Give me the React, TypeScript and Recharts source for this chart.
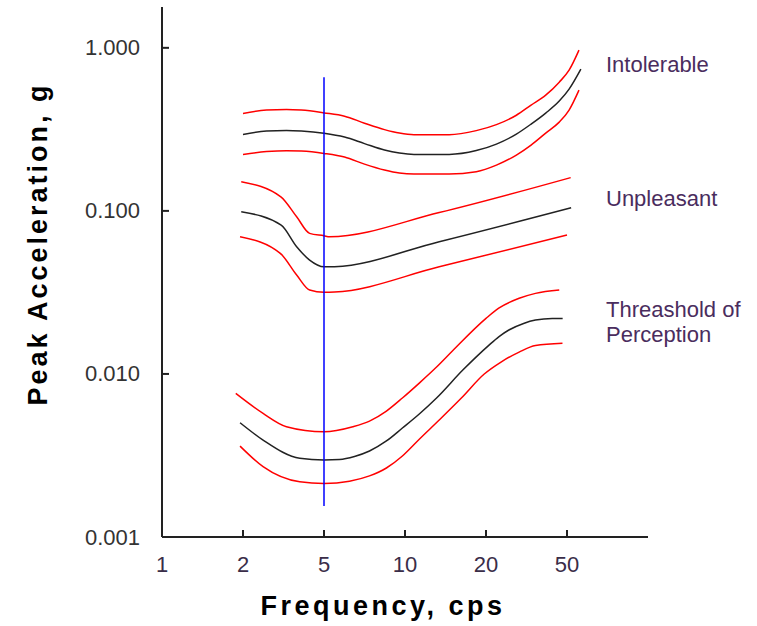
import { LineChart, Line, XAxis, YAxis, Customized } from 'recharts';

// evenly spaced 1-2-5 frequency axis
const tickFreqs = [1, 2, 5, 10, 20, 50, 100];
const xTickLabels = ['1', '2', '5', '10', '20', '50', ''];
const yTicks = [0.001, 0.01, 0.1, 1];

const intolerableF = [2.0, 2.61, 3.27, 3.87, 5, 5.96, 7.07, 8.39, 9.53, 10.8, 14.6, 18.4, 22.5, 28.2, 33.3, 39.3, 45.8, 50.9, 55.4];
const intolerableHi = [0.396, 0.415, 0.419, 0.415, 0.399, 0.381, 0.345, 0.315, 0.3, 0.2935, 0.2935, 0.3106, 0.338, 0.386, 0.4455, 0.513, 0.616, 0.729, 0.968];
const intolerableMidF = [2.0, 2.61, 3.27, 3.87, 5, 5.96, 7.07, 8.39, 9.53, 10.8, 14.6, 18.4, 22.5, 28.2, 33.3, 39.3, 45.8, 50.9, 56.3];
const intolerableMid = [0.294, 0.3086, 0.311, 0.3086, 0.299, 0.2835, 0.2586, 0.236, 0.2262, 0.222, 0.222, 0.2343, 0.2568, 0.2957, 0.3406, 0.398, 0.4713, 0.558, 0.74];
const intolerableLo = [0.222, 0.231, 0.234, 0.2327, 0.225, 0.2138, 0.1936, 0.178, 0.1705, 0.1681, 0.1681, 0.174, 0.1909, 0.22, 0.2532, 0.3, 0.3503, 0.415, 0.55];

const unpleasantHiF = [1.97, 3.07, 3.67, 4.25, 5, 5.24, 13.4, 51.6];
const unpleasantHi = [0.151, 0.122, 0.092, 0.0728, 0.0704, 0.0694, 0.0977, 0.16];
const unpleasantMidF = [1.97, 3.08, 3.67, 4.25, 5, 5.47, 13.4, 51.8];
const unpleasantMid = [0.0987, 0.0818, 0.0603, 0.0499, 0.0454, 0.0455, 0.0647, 0.1045];
const unpleasantLoF = [1.95, 3.05, 3.67, 4.25, 5, 5.47, 13.4, 50];
const unpleasantLo = [0.0694, 0.0549, 0.0404, 0.0327, 0.0317, 0.0318, 0.0454, 0.0711];

const thresholdHiF = [1.88, 2.51, 3.27, 5, 6.4, 7.38, 8.53, 9.78, 11.3, 13.1, 15.0, 20, 23.1, 29.1, 35, 45.8];
const thresholdHi = [0.0076, 0.00573, 0.00475, 0.00442, 0.00475, 0.00514, 0.00592, 0.00712, 0.00879, 0.01102, 0.01382, 0.0219, 0.0253, 0.0291, 0.0312, 0.0327];
const thresholdMidF = [1.95, 2.51, 3.8, 5, 5.71, 6.49, 7.38, 8.53, 9.78, 11.3, 13.1, 16.4, 20.7, 23.1, 25.9, 30.6, 35, 42.3, 47.6];
const thresholdMid = [0.00502, 0.00393, 0.00304, 0.00297, 0.00299, 0.00312, 0.00337, 0.00388, 0.00466, 0.00568, 0.00712, 0.01056, 0.01503, 0.0169, 0.0186, 0.0204, 0.0214, 0.0219, 0.0219];
const thresholdLoF = [1.95, 2.51, 3.8, 5, 6.22, 7.38, 8.53, 9.78, 11.3, 13.4, 16.2, 19.7, 23.7, 29.1, 35, 47.5];
const thresholdLo = [0.00361, 0.0027, 0.00218, 0.00213, 0.0022, 0.00237, 0.00265, 0.00314, 0.00398, 0.00522, 0.00712, 0.00999, 0.01183, 0.01362, 0.01493, 0.0154];

const markerF = [5, 5];
const marker = [0.66, 0.00155];

const FONT = 'Liberation Sans, Arial, sans-serif';

// frequency -> position on the 1-2-5 axis
const toPos = (f: number) => {
  for (let i = 0; i < tickFreqs.length - 1; i++) {
    const a = tickFreqs[i];
    const b = tickFreqs[i + 1];
    if (f <= b || i === tickFreqs.length - 2) return i + Math.log(f / a) / Math.log(b / a);
  }
  return 0;
};

const series = (fs: number[], vs: number[]) => fs.map((f, i) => ({ pos: toPos(f), v: vs[i] }));

const redLines = [
  series(intolerableF, intolerableHi),
  series(intolerableF, intolerableLo),
  series(unpleasantHiF, unpleasantHi),
  series(unpleasantLoF, unpleasantLo),
  series(thresholdHiF, thresholdHi),
  series(thresholdLoF, thresholdLo),
];
const blackLines = [
  series(intolerableMidF, intolerableMid),
  series(unpleasantMidF, unpleasantMid),
  series(thresholdMidF, thresholdMid),
];

const YTick = (props: any) => {
  const { x, y, payload } = props;
  return (
    <g>
      {payload.value !== 0.001 && <line x1={x} x2={x + 7} y1={y} y2={y} stroke="#222" strokeWidth={2} />}
      <text x={x - 22} y={y} textAnchor="end" dominantBaseline="central" fontSize={22} fill="#333" fontFamily={FONT}>
        {payload.value.toFixed(3)}
      </text>
    </g>
  );
};

const XTick = (props: any) => {
  const { x, y, payload } = props;
  return (
    <g>
      {payload.value !== 0 && <line x1={x} x2={x} y1={y - 7} y2={y} stroke="#222" strokeWidth={2} />}
      <text x={x} y={y + 27} textAnchor="middle" dominantBaseline="central" fontSize={22} fill="#3a2d48" fontFamily={FONT}>
        {xTickLabels[payload.value]}
      </text>
    </g>
  );
};

const Titles = () => (
  <g fontFamily={FONT}>
    <text x={383} y={615} textAnchor="middle" fontSize={27} fontWeight="bold" letterSpacing={3.5} fill="#000">
      Frequency, cps
    </text>
    <text
      x={38}
      y={244}
      textAnchor="middle"
      dominantBaseline="central"
      fontSize={27}
      fontWeight="bold"
      letterSpacing={3}
      fill="#000"
      transform="rotate(-90, 38, 244)"
    >
      Peak Acceleration, g
    </text>
    <g fontSize={22} fill="#4a2d5e">
      <text x={606} y={72}>Intolerable</text>
      <text x={606} y={206}>Unpleasant</text>
      <text x={606} y={317}>Threashold of</text>
      <text x={606} y={342}>Perception</text>
    </g>
  </g>
);

export default function App() {
  return (
    <div style={{ position: 'absolute', left: 0, top: 0 }}>
      <LineChart width={757} height={626} margin={{ top: 7, right: 109, bottom: 0, left: 102 }}>
        <XAxis
          type="number"
          dataKey="pos"
          domain={[0, 6]}
          ticks={[0, 1, 2, 3, 4, 5]}
          allowDataOverflow
          height={89}
          tickSize={0}
          tickMargin={0}
          tickLine={false}
          tick={<XTick />}
          axisLine={{ stroke: '#222', strokeWidth: 2 }}
        />
        <YAxis
          type="number"
          dataKey="v"
          scale="log"
          domain={[0.001, 1.78]}
          ticks={yTicks}
          allowDataOverflow
          width={60}
          tickSize={0}
          tickMargin={0}
          tickLine={false}
          tick={<YTick />}
          axisLine={{ stroke: '#222', strokeWidth: 2 }}
        />
        {redLines.map((d, i) => (
          <Line key={'r' + i} data={d} dataKey="v" type="monotone" stroke="#ff0000" strokeWidth={1.5} dot={false} isAnimationActive={false} />
        ))}
        {blackLines.map((d, i) => (
          <Line key={'b' + i} data={d} dataKey="v" type="monotone" stroke="#222" strokeWidth={1.5} dot={false} isAnimationActive={false} />
        ))}
        <Line data={series(markerF, marker)} dataKey="v" type="linear" stroke="#0000ff" strokeWidth={1.5} dot={false} isAnimationActive={false} />
        <Customized component={Titles} />
      </LineChart>
    </div>
  );
}
